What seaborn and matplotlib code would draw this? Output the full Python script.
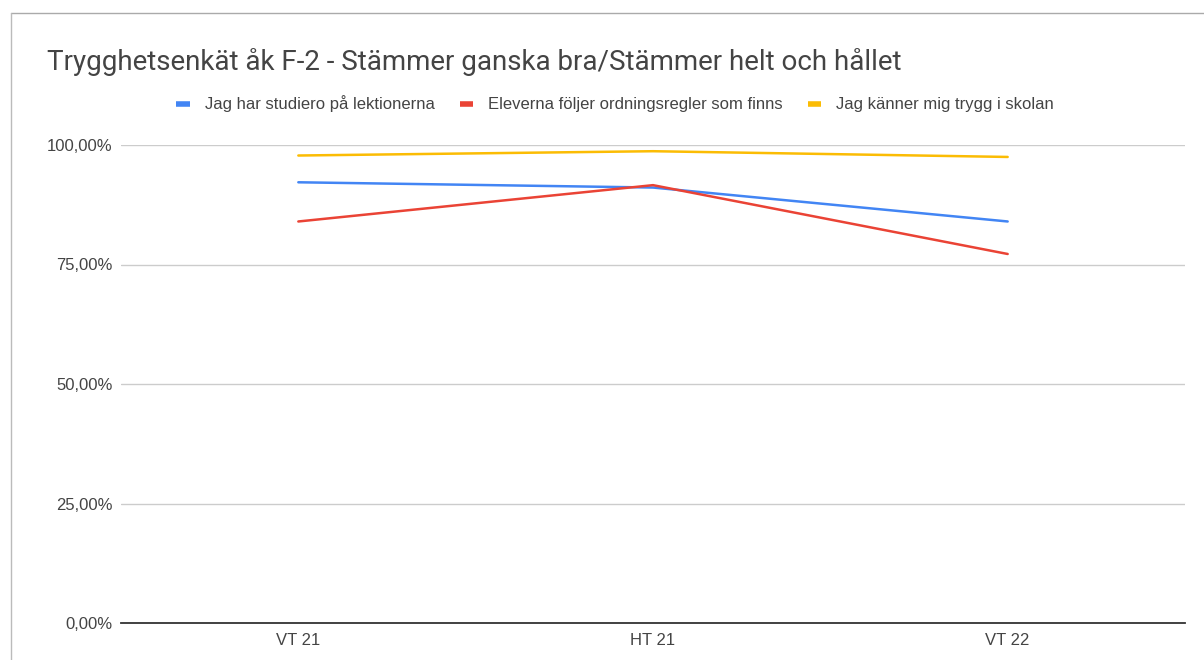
import matplotlib
matplotlib.use("Agg")
import matplotlib.pyplot as plt
import seaborn as sns
import pandas as pd
from matplotlib.lines import Line2D
from matplotlib.ticker import FuncFormatter

# ---- data ----
categories = ["VT 21", "HT 21", "VT 22"]
series_names = [
    "Jag har studiero på lektionerna",
    "Eleverna följer ordningsregler som finns",
    "Jag känner mig trygg i skolan",
]
studiero = [0.922, 0.911, 0.840]
ordning = [0.840, 0.916, 0.772]
trygg = [0.978, 0.987, 0.975]
colors = ["#4285F4", "#EA4335", "#FBBC04"]
title = "Trygghetsenkät åk F-2 - Stämmer ganska bra/Stämmer helt och hållet"

rows = []
for name, vals in zip(series_names, [studiero, ordning, trygg]):
    for i, (c, v) in enumerate(zip(categories, vals)):
        rows.append({"pos": i, "cat": c, "serie": name, "value": v})
df = pd.DataFrame(rows)

sns.set_theme(style="white")
plt.rcParams["font.family"] = ["Liberation Sans", "DejaVu Sans"]

fig = plt.figure(figsize=(12.04, 6.6), dpi=100)
ax = fig.add_axes([121 / 1204, 1 - 623 / 660, (1185 - 121) / 1204, (623 - 145) / 660])

sns.lineplot(data=df, x="pos", y="value", hue="serie", hue_order=series_names,
             palette=colors, linewidth=1.8, ax=ax, legend=False)

ax.set_xlim(-0.5, 2.5)
ax.set_ylim(0, 1)
ax.set_xticks(range(len(categories)))
ax.set_xticklabels(categories)
ax.set_yticks([0, 0.25, 0.5, 0.75, 1.0])
ax.yaxis.set_major_formatter(FuncFormatter(lambda v, p: f"{v*100:.2f}%".replace(".", ",")))
ax.set_xlabel("")
ax.set_ylabel("")
ax.grid(axis="y", color="#cccccc", linewidth=1)
ax.set_axisbelow(True)
for s in ["top", "right", "left"]:
    ax.spines[s].set_visible(False)
ax.spines["bottom"].set_color("#333333")
ax.spines["bottom"].set_linewidth(1.3)
ax.spines["bottom"].set_zorder(5)
ax.tick_params(axis="both", length=0, labelsize=12, colors="#444444")
ax.tick_params(axis="y", pad=6)
ax.tick_params(axis="x", pad=7)

fig.text(47 / 1204, 1 - 62 / 660, title, fontsize=20, color="#444444",
         ha="left", va="center", family=["Roboto", "DejaVu Sans"])

handles = [Line2D([0], [0], color=c, linewidth=4, solid_capstyle="butt") for c in colors]
leg = fig.legend(handles, series_names, loc="center", bbox_to_anchor=(615 / 1204, 1 - 104 / 660),
                 ncol=3, frameon=False, fontsize=12, handlelength=0.8, handletextpad=0.9,
                 columnspacing=1.5, labelcolor="#444444")

# screenshot frame lines
fig.add_artist(Line2D([11 / 1204, 1], [1 - 13 / 660, 1 - 13 / 660], color="#aaaaaa", linewidth=1))
fig.add_artist(Line2D([11 / 1204, 11 / 1204], [0, 1 - 13 / 660], color="#bbbbbb", linewidth=1))

fig.savefig("out.png", dpi=100)
